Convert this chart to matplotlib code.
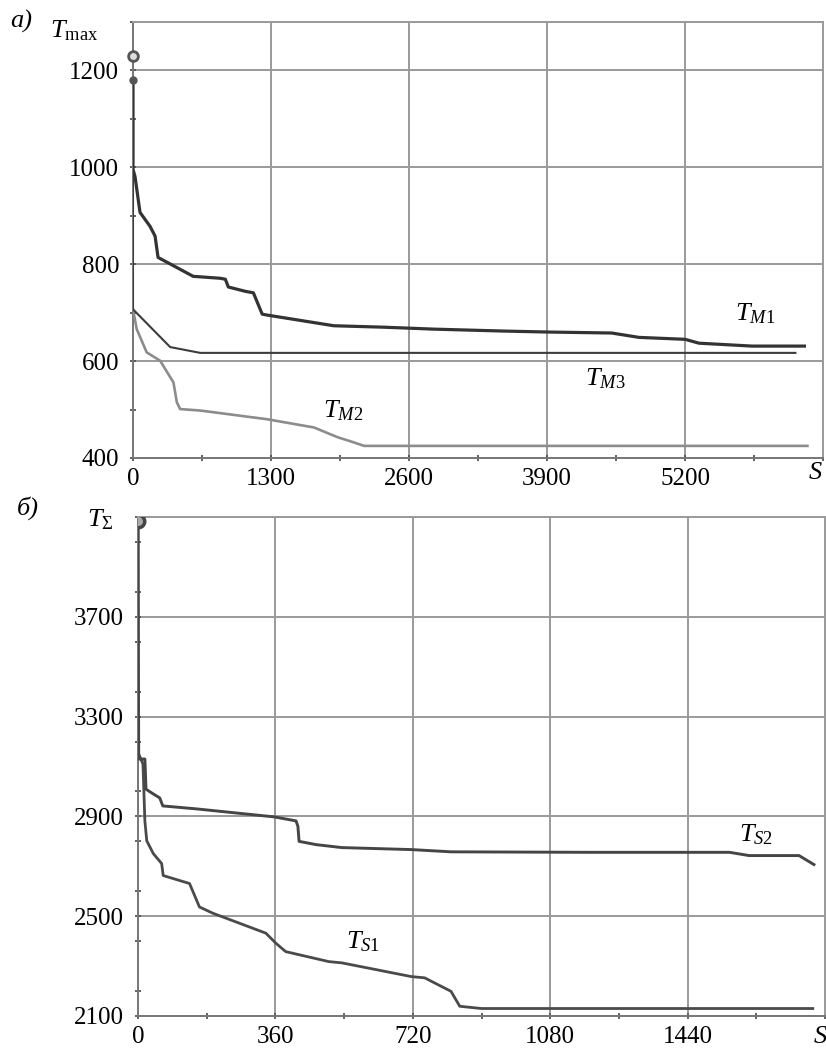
import matplotlib
matplotlib.use("Agg")
import matplotlib.pyplot as plt
from matplotlib.ticker import MultipleLocator

plt.rcParams['font.family'] = ['Liberation Serif', 'DejaVu Serif']
plt.rcParams['mathtext.fontset'] = 'custom'
plt.rcParams['mathtext.rm'] = 'Liberation Serif'
plt.rcParams['mathtext.it'] = 'Liberation Serif:italic'
plt.rcParams['mathtext.bf'] = 'Liberation Serif:bold'

# ---------- panel a) data ----------
tm1_s = [0, 0, 19, 66, 161, 208, 236, 321, 567, 822, 870, 898, 1059, 1134, 1217, 1264,
         1891, 2364, 2836, 3498, 3914, 4510, 4765, 5200, 5332, 5833, 6325]
tm1_t = [1181, 996, 981, 907, 878, 858, 814, 804, 775, 771, 769, 753, 744, 741, 697, 695,
         673, 670, 666, 662, 660, 658, 649, 645, 637, 631, 631]

tm3_s = [0, 0, 350, 633, 6240]
tm3_t = [1100, 707, 629, 617, 617]

tm2_s = [0, 35, 129, 255, 381, 413, 444, 633, 1264, 1705, 1926, 2083, 2178, 6353]
tm2_t = [707, 666, 618, 601, 556, 515, 501, 498, 480, 463, 443, 432, 425, 425]

top_markers_s = [0, 0]
top_markers_t = [1229, 1181]

top_xticks = [0, 1300, 2600, 3900, 5200]
top_yticks = [400, 600, 800, 1000, 1200]

# ---------- panel b) data ----------
ts2_s = [0, 0, 18, 21, 36, 57, 65, 154, 357, 414, 419, 422, 466, 534, 716, 820,
         1185, 1550, 1601, 1732, 1771]
ts2_t = [4090, 3130, 3130, 3009, 2994, 2974, 2942, 2930, 2898, 2882, 2860, 2800, 2787,
         2775, 2767, 2758, 2756, 2756, 2743, 2743, 2707]

ts1_s = [0, 2, 13, 18, 23, 40, 62, 66, 135, 161, 196, 335, 361, 387, 500, 534, 716,
         751, 820, 843, 900, 1768]
ts1_t = [4090, 3150, 3110, 2882, 2802, 2751, 2711, 2663, 2631, 2537, 2512, 2432, 2392,
         2358, 2318, 2313, 2258, 2253, 2199, 2139, 2130, 2130]

bot_marker_s = [0]
bot_marker_t = [4082]

bot_xticks = [0, 360, 720, 1080, 1440]
bot_yticks = [2100, 2500, 2900, 3300, 3700]

W, H = 826, 1048
fig = plt.figure(figsize=(W / 100, H / 100), dpi=100)

def px_axes(l, t, r, b):
    return fig.add_axes([l / W, 1 - b / H, (r - l) / W, (b - t) / H])

GRID = '#9a9a9a'
FS = 18

def style(ax, xmin, xmax, ymin, ymax, xt, yt, xminor, yminor):
    ax.set_xlim(xmin, xmax)
    ax.set_ylim(ymin, ymax)
    ax.xaxis.set_minor_locator(MultipleLocator(xminor))
    ax.yaxis.set_minor_locator(MultipleLocator(yminor))
    ax.set_xticks(list(xt) + [xmax])
    ax.set_xticklabels([str(v) for v in xt] + [''])
    ax.set_yticks(list(yt) + [ymax])
    ax.set_yticklabels([str(v) for v in yt] + [''])
    ax.grid(True, which='major', color=GRID, lw=1.4)
    for sp in ax.spines.values():
        sp.set_color(GRID)
        sp.set_linewidth(1.4)
    ax.spines['left'].set_color('#777777')
    ax.spines['bottom'].set_color('#777777')
    ax.tick_params(which='both', direction='inout', color='#555555', width=1.3,
                   labelsize=FS)
    ax.tick_params(which='major', length=4)
    ax.tick_params(which='minor', length=4)
    ax.tick_params(axis='y', pad=8)
    ax.tick_params(axis='x', pad=5)

# ---------- top panel ----------
ax1 = px_axes(133, 22, 823, 458)
style(ax1, 0, 6500, 400, 1300, top_xticks, top_yticks, 650, 100)
ax1.plot(tm2_s, tm2_t, color='#8c8c8c', lw=1.9, solid_joinstyle='round', zorder=3)
ax1.plot(tm3_s, tm3_t, color='#3c3c3c', lw=1.5, solid_joinstyle='round', zorder=3)
ax1.plot(tm1_s, tm1_t, color='#333333', lw=2.3, solid_joinstyle='round', zorder=4)
ax1.plot(top_markers_s[:1], top_markers_t[:1], 'o', ms=7, mfc='#dddddd', mec='#555555',
         mew=2, clip_on=False, zorder=5)
ax1.plot(top_markers_s[1:], top_markers_t[1:], 'o', ms=5, mfc='#555555', mec='#555555',
         clip_on=False, zorder=5)
ax1.text(5673, 697, r'$T_{M\mathrm{1}}$', fontsize=19, va='center', ha='left')
ax1.text(4255, 563, r'$T_{M\mathrm{3}}$', fontsize=19, va='center', ha='left')
ax1.text(1787, 497, r'$T_{M\mathrm{2}}$', fontsize=19, va='center', ha='left')

fig.text(10 / W, 1 - 21 / H, 'а)', fontsize=19, style='italic', va='center', ha='left')
fig.text(50 / W, 1 - 31 / H, r'$T_{\mathrm{max}}$', fontsize=19, va='center', ha='left')
fig.text(815 / W, 1 - 473 / H, r'$S$', fontsize=19, va='center', ha='center')

# ---------- bottom panel ----------
ax2 = px_axes(138, 517, 825, 1016)
style(ax2, 0, 1800, 2100, 4100, bot_xticks, bot_yticks, 180, 200)
ax2.plot(ts1_s, ts1_t, color='#4a4a4a', lw=2.0, solid_joinstyle='round', zorder=3)
ax2.plot(ts2_s, ts2_t, color='#454545', lw=2.1, solid_joinstyle='round', zorder=4)
ax2.plot(bot_marker_s, bot_marker_t, 'o', ms=9, mfc='#aaaaaa', mec='#444444', mew=2.5,
         clip_on=True, zorder=5)
ax2.text(544, 2397, r'$T_{S\mathrm{1}}$', fontsize=19, va='center', ha='left')
ax2.text(1575, 2826, r'$T_{S\mathrm{2}}$', fontsize=19, va='center', ha='left')

fig.text(17 / W, 1 - 508 / H, 'б)', fontsize=19, style='italic', va='center', ha='left')
fig.text(87 / W, 1 - 520 / H, r'$T_{\Sigma}$', fontsize=19, va='center', ha='left')
fig.text(820 / W, 1 - 1037 / H, r'$S$', fontsize=19, va='center', ha='center')

fig.savefig('out.png', dpi=100)
